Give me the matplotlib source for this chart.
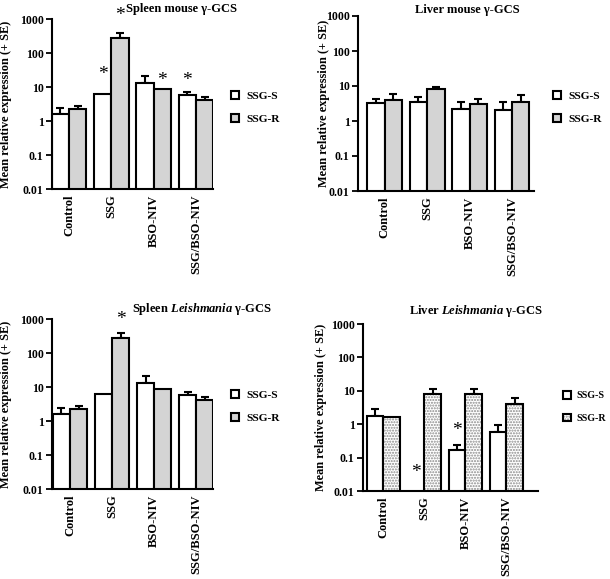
import matplotlib
matplotlib.use('Agg')
import matplotlib.pyplot as plt
import numpy as np
from matplotlib.patches import Patch
from matplotlib.legend_handler import HandlerTuple

plt.rcParams['font.family'] = 'Liberation Serif'
plt.rcParams['font.weight'] = 'bold'
plt.rcParams['mathtext.fontset'] = 'custom'
plt.rcParams['mathtext.rm'] = 'Liberation Serif:bold'
plt.rcParams['mathtext.it'] = 'Liberation Serif:italic:bold'
plt.rcParams['hatch.linewidth'] = 1.0

categories = ['Control', 'SSG', 'BSO-NIV', 'SSG/BSO-NIV']
series = ['SSG-S', 'SSG-R']

# spleen mouse
spm_s = [1.6, 6.2, 13.0, 5.7]
spm_s_se = [0.8, 0.0, 8.0, 1.3]
spm_r = [2.3, 285.0, 8.5, 4.2]
spm_r_se = [0.5, 110.0, 0.0, 1.0]

# liver mouse
lvm_s = [3.2, 3.5, 2.2, 2.1]
lvm_s_se = [1.1, 1.4, 1.4, 1.4]
lvm_r = [4.1, 8.0, 3.1, 3.4]
lvm_r_se = [1.9, 1.6, 1.2, 2.0]

# spleen leishmania
spl_s = [1.6, 6.2, 13.0, 5.7]
spl_s_se = [0.8, 0.0, 8.0, 1.3]
spl_r = [2.3, 285.0, 8.5, 4.2]
spl_r_se = [0.5, 110.0, 0.0, 1.0]

# liver leishmania (SSG-S under SSG not detected)
lvl_s = [1.75, np.nan, 0.17, 0.57]
lvl_s_se = [1.1, np.nan, 0.07, 0.4]
lvl_r = [1.6, 7.8, 8.1, 3.9]
lvl_r_se = [0.0, 3.2, 3.6, 2.4]

# significance stars: (series index, category index, y)
spm_stars = [(0, 1, 23), (1, 1, 1250), (1, 2, 16), (0, 3, 16)]
lvm_stars = []
spl_stars = [(1, 1, 1000)]
lvl_stars = [(0, 1, 0.037), (0, 2, 0.66)]

W, H = 610, 579
fig = plt.figure(figsize=(W / 100, H / 100), dpi=100)


def px_axes(left, right, top, bottom):
    return fig.add_axes([left / W, 1 - bottom / H, (right - left) / W, (bottom - top) / H])


def panel(ax, s, s_se, r, r_se, stars, xlim, title, tpos, legpos, ylab_x,
          legsize=8.2, legpad=5.0, dotted=False):
    x = np.arange(len(categories))
    w = 0.41
    ax.bar(x - w / 2, s, w, color='white', edgecolor='black', linewidth=1.5, zorder=2)
    if dotted:
        ax.bar(x + w / 2, r, w, color='white', edgecolor='#8a8a8a', hatch='......',
               linewidth=0, zorder=2)
        ax.bar(x + w / 2, r, w, fill=False, edgecolor='black', linewidth=1.5, zorder=3)
    else:
        ax.bar(x + w / 2, r, w, color='#d4d4d4', edgecolor='black', linewidth=1.5, zorder=2)
    s_arr, s_e = np.array(s), np.array(s_se)
    r_arr, r_e = np.array(r), np.array(r_se)
    for xs, v, e in [(x - w / 2, s_arr, s_e), (x + w / 2, r_arr, r_e)]:
        m = (e > 0) & ~np.isnan(v)
        ax.errorbar(xs[m], v[m], yerr=[np.zeros(m.sum()), e[m]], fmt='none',
                    ecolor='black', elinewidth=1.5, capsize=3, capthick=1.5, zorder=1)
    for si, ci, y in stars:
        ax.text(ci + (si - 0.5) * w, y, '*', ha='center', va='center', fontsize=14,
                fontweight='normal', clip_on=False)
    ax.set_yscale('log')
    ax.set_ylim(0.01, 1000)
    ax.set_xlim(*xlim)
    ax.set_yticks([0.01, 0.1, 1, 10, 100, 1000])
    ax.set_yticklabels(['0.01', '0.1', '1', '10', '100', '1000'])
    ax.yaxis.set_minor_locator(matplotlib.ticker.NullLocator())
    ax.set_xticks(x)
    ax.set_xticklabels(categories, rotation=90)
    ax.tick_params(axis='x', length=0, pad=4, labelsize=9)
    ax.tick_params(axis='y', length=4, width=1.3, pad=2, labelsize=8.5)
    for sp in ['top', 'right']:
        ax.spines[sp].set_visible(False)
    for sp in ['left', 'bottom']:
        ax.spines[sp].set_linewidth(1.5)
    ax.set_ylabel('Mean relative expression (+ SE)', fontsize=8.8, fontweight='bold')
    x0 = ax.get_position().x0 * W
    ax.yaxis.set_label_coords((ylab_x - x0) / (ax.get_position().width * W), 0.5)
    fig.text(tpos[0] / W, 1 - tpos[1] / H, title, ha='center', va='center', fontsize=9)

    h_s = Patch(facecolor='white', edgecolor='black', linewidth=1.5)
    if dotted:
        h_r = (Patch(facecolor='white', edgecolor='#8a8a8a', hatch='......', linewidth=0),
               Patch(fill=False, edgecolor='black', linewidth=1.5))
    else:
        h_r = Patch(facecolor='#d4d4d4', edgecolor='black', linewidth=1.5)
    hsize = 6.0 / legsize
    ax.legend([h_s, h_r], series, loc='upper left',
              bbox_to_anchor=(legpos[0] / W, 1 - legpos[1] / H),
              bbox_transform=fig.transFigure, frameon=False, fontsize=legsize,
              handlelength=hsize, handleheight=hsize, handletextpad=legpad / legsize,
              labelspacing=9.5 / legsize, borderpad=0, borderaxespad=0,
              handler_map={tuple: HandlerTuple(ndivide=1, pad=0)})


ax1 = px_axes(52, 213, 19, 189)
panel(ax1, spm_s, spm_s_se, spm_r, spm_r_se, spm_stars, (-0.4, 3.4),
      'Spleen mouse γ-GCS', (182, 9), (231, 91), 12)

ax2 = px_axes(358, 534, 16, 191)
panel(ax2, lvm_s, lvm_s_se, lvm_r, lvm_r_se, lvm_stars, (-0.63, 3.52),
      'Liver mouse γ-GCS', (467, 10), (553, 91), 330)

ax3 = px_axes(52, 213, 319, 489)
panel(ax3, spl_s, spl_s_se, spl_r, spl_r_se, spl_stars, (-0.43, 3.4),
      r'Spleen $Leishmania$ γ-GCS', (202, 309), (231, 390), 12)

ax4 = px_axes(363, 538, 324, 491)
panel(ax4, lvl_s, lvl_s_se, lvl_r, lvl_r_se, lvl_stars, (-0.5, 3.77),
      r'Liver $Leishmania$ γ-GCS', (476, 311), (563, 391), 327,
      legsize=7.2, legpad=4.0, dotted=True)

fig.savefig('out.png', dpi=100)
